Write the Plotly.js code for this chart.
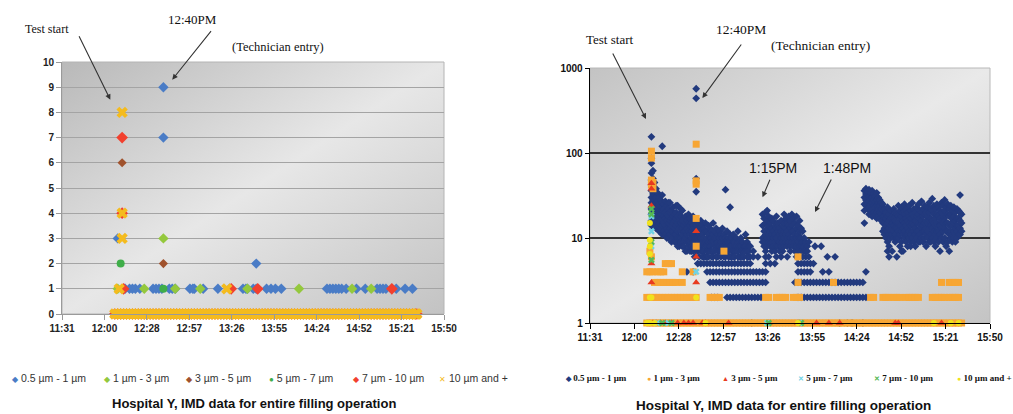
<!DOCTYPE html>
<html><head><meta charset="utf-8">
<script src="https://cdn.plot.ly/plotly-3.0.1.min.js"></script>
<style>html,body{margin:0;padding:0;background:#fff}#chart{width:1013px;height:414px}</style>
</head><body><div id="chart"></div>
<script>
// ---------------- shared axis data ----------------
const tickLabels = ['11:31','12:00','12:28','12:57','13:26','13:55','14:24','14:52','15:21','15:50'];
const tickTimes  = ['11:31:12','12:00:00','12:28:48','12:57:36','13:26:24','13:55:12','14:24:00','14:52:48','15:21:36','15:50:24'];
const axisStart = '11:31:12', axisEnd = '15:50:24';
const seriesNames = ['0.5 µm - 1 µm','1 µm - 3 µm','3 µm - 5 µm','5 µm - 7 µm','7 µm - 10 µm','10 µm and +'];

// ---------------- LEFT chart (linear) : times in minutes after midnight ----------------
const leftLogMinutes = [727,729,731,733,735,737,739,741,743,745,747,749,751,753,755,757,759,761,763,765,767,769,771,773,775,777,779,781,783,785,787,789,791,793,795,797,799,801,803,805,807,809,811,813,815,817,819,821,823,825,827,829,831,833,835,837,839,841,843,845,847,849,851,853,855,857,859,861,863,865,867,869,871,873,875,877,879,881,883,885,887,889,891,893,895,897,899,901,903,905,907,909,911,913,915,917,919,921,923,925,927,929,931,932];
const leftBluePairs = [[729,3],[760,9],[760,7],[823,2]];
const leftBlueOnes = [734,737,739,741,744,753,755,757,759,764,766,768,778,780,781,787,797,805,814,816,817,821,823,830,833,836,840,871,873,875,877,879,881,884,891,897,905,907,909,911,918,924,929];
const leftLimePairs = [[760,3]];
const leftLimeOnes = [729,747,768,785,817,852,888,901];
const leftBrownPairs = [[732,6],[760,2]];
const leftGreenPairs = [[731,2]];
const leftGreenOnes = [760];
const leftRedPairs = [[732,7],[732,4]];
const leftRedOnes = [733,806,824,915];
const leftYellowPairs = [[732,8],[732,4],[732,3]];
const leftYellowOnes = [730,803];

// ---------------- RIGHT chart (log) ----------------
const rightLogMinutes = [728,730,732,734,736,738,740,742,744,746,748,750,752,754,756,758,760,762,764,766,768,770,772,774,776,778,780,782,784,786,788,790,792,794,796,798,800,802,804,806,808,810,812,814,816,818,820,822,824,826,828,830,832,834,836,838,840,842,844,846,848,850,852,854,856,858,860,862,864,866,868,870,872,874,876,878,880,882,884,886,888,890,892,894,896,898,900,902,904,906,908,910,912,914,916,918,920,922,924,926,928,930,932];
// navy cloud rows: [minute, counts...]
const navyDecay = [
[731,155,87,76,58,48,42,36,30,26,22,19,16,14],[732,62,50,40,33,28,24,20,17],[733,45,35,29,25,21,18,15],
[734,38,30,26,22,19,16,13],[735,34,27,23,20,17,14],[736,30,25,21,18,15,12],[737,28,23,19,16,13],
[738,120,32,26,21,17,14,11],[739,25,22,18,15,12],[740,27,20,17,14,11],[741,24,19,16,13,10],
[742,26,22,18,15,12,10],[743,26,20,16,13,11],[744,21,17,14,12,9],[745,23,18,15,12,10],[746,19,16,13,11,9],
[747,24,20,17,14,11,9],[748,24,18,15,12,10,8],[749,19,16,13,10,8],[750,22,18,15,12,10,9],[751,21,16,13,11,8],
[752,17,14,12,9,8],[753,18,15,12,10,7],[754,16,13,11,9,7],[755,19,15,12,9,8],[756,17,14,11,9,7],
[757,15,12,10,8,7],[758,18,14,11,9,7],[759,16,13,10,8,6],[760,570,440,50,35,14,12,10,8,7],[761,15,12,10,8,7],
[762,13,11,9,8,6],[763,16,12,10,8,7],[764,14,11,9,7,6],[765,13,10,9,7,6],[766,15,12,9,8,6],[767,12,10,8,7,6],
[768,14,11,9,7,6],[769,13,10,8,7],[770,12,10,9,7,6],[771,15,11,9,7,6],[772,12,10,8,7],[773,13,10,8,6],
[774,11,9,8,7,6],[775,12,10,8,7],[776,11,9,7,6],[777,13,10,8,7],[778,11,9,8,6],[779,37,10,9,7,6],
[780,12,9,8,7],[781,10,9,7,6],[782,23,11,9,8,6],[783,10,8,7,6],[784,11,9,7,6],[785,9,8,7,6],[786,10,8,7],
[787,12,9,7,6],[788,9,8,6],[789,10,8,7,6],[790,9,7,6],[791,8,7,6],[792,11,8,7],[793,9,7,6],[794,8,7,6],
[795,8,6],[797,7,6],[800,6],[805,6]];
const navyBump = [
[803,19,14,10,9],[804,17,12,9,8],[805,20,15,11,9,7],[806,21,16,13,10,8],[807,18,14,11,9,6],[808,15,12,10,8],
[809,17,13,11,9,7],[810,16,12,10,8],[811,14,11,9,7],[812,18,13,10,8,6],[813,15,12,9,8],[814,13,11,9,7],
[815,16,12,10,8,6],[816,14,11,9,7],[817,19,15,12,10,8],[818,17,13,11,9],[819,15,12,10,8,6],[820,18,14,11,9],
[821,16,13,10,8,7],[822,19,14,12,9],[823,17,12,10,8],[824,15,11,9,7],[825,18,13,10,8,6],[826,14,11,9,7],
[827,16,12,10,8],[828,13,10,8,7],[829,12,9,8,6],[830,10,8,7],[831,9,7,6],[832,8,7],[833,9,6],
[837,8],[841,8],[845,6],[850,6]];
const navyLate = [
[869,36,30,25,21,15],[870,38,33,28,24],[871,35,30,26,22],[872,37,31,27,23,19],[873,34,29,25,21],
[874,36,30,26,22,18],[875,33,28,24,20],[876,31,27,23,19],[877,34,28,24,20,17],[878,30,26,22,18],
[879,28,24,20,17],[880,26,22,19,16],[881,25,21,18,15,12],[882,22,18,15,13,11],[883,20,17,14,12,10],
[884,23,18,15,12,9,7],[885,19,16,13,11,8,6],[886,21,17,14,12,10],[887,18,15,13,11,7],[888,22,17,14,12,10],
[889,20,16,13,11,9],[890,19,15,13,10,6],[891,24,18,15,12,10],[892,21,17,14,11,8],[893,23,18,14,12,9,7],
[894,20,16,13,11,7],[895,25,19,15,12,10],[896,22,17,14,11,9],[897,20,16,13,11,8],[898,24,18,15,12,10],
[899,21,17,14,11,9,8],[900,26,19,15,12,10],[901,22,18,14,12,9],[902,20,16,13,11,8],[903,23,18,15,12,10],
[904,25,19,15,12,9],[905,21,17,14,11,9],[906,27,20,16,13,10],[907,22,18,14,12,9],[908,24,19,15,12,10],
[909,20,16,13,11,8],[910,23,18,15,12,10],[911,26,20,16,13,9],[912,22,17,14,11,9],[913,29,21,16,13,10],
[914,24,19,15,12,9],[915,22,17,14,11,8],[916,25,19,15,12,10],[917,23,18,14,12,9],[918,21,17,14,11,7],
[919,26,20,16,13,10],[920,24,18,15,12,9],[921,28,21,16,13,10],[922,23,18,15,12,8],[923,25,19,15,12,9],
[924,22,18,14,11,7],[925,24,19,15,12,10],[926,21,17,14,11,9],[927,23,18,15,12,10],[928,20,16,13,11,9],
[929,22,17,14,12,10],[930,21,17,14,11],[931,32,20,16,13,11],[932,19,15,12]];
const navyRow5 = [761,763,765,767,769,771,773,775,777,779,781,783,785,787,789,791,793,795,805,808,811,826,828,830,832,834,836];
const navyRow4 = [754,758,767,769,771,773,775,777,779,781,783,785,787,789,791,793,795,797,799,801,803,805,826,828,830,832,834,842,846,870];
const navyRow3 = [769,771,773,775,777,779,781,783,785,787,789,791,793,795,797,799,801,803,805,824,826,828,830,832,834,836,838,840,842,844,846,848,850,852,854,856,858,860,862,864,866,868];
const navyRow2 = [770,772,774,780,782,784,786,788,790,792,794,796,798,800,802,826,828,830,832,834,836,838,840,842,844,846,848,850,852,854,856,858,860,862,864,866,868,870];
const navyRow1 = [796,853,858,861,868];

const orangeRow2 = [728,730,732,734,736,738,740,742,744,746,748,750,752,754,756,758,760,769,771,773,775,805,807,812,814,816,818,823,825,827,873,875,881,883,885,888,890,892,896,898,900,902,904,913,915,917,919,921,924,926,928,930];
const orangeRow3 = [733,735,737,739,741,743,745,747,751,826,849,919,924,926,928,930];
const orangeRow4 = [728,730,732,735,737,739,751,758];
const orangeRow5 = [740,742,744];
const orangePairs = [[731,105],[731,87],[731,48],[731,42],[732,38],[732,45],[730,7],[731,6],[760,127],[760,47],[760,43],[760,17],[760,8],[778,7],[826,6]];
const redPairs = [[731,44],[731,38],[731,24],[731,5],[731,3],[760,12],[760,6],[760,3]];
const redOnes = [732,734,737,740,744,748,752,755,758,764,766,781,807,826,838,846,853,889,891,919];
const cyanPairs = [[731,18],[731,12],[731,8],[760,4]];
const cyanOnes = [735,742,806,827];
const greenPairs = [[731,22],[731,19],[731,9],[731,5.5]];
const greenOnes = [738,744,807,828];
const yellowPairs = [[730,15],[730,9.5],[730,8],[730,6.5],[730,2],[731,2],[760,2]];
const yellowOnes = [728,730,733,766,826,914,925,930];

// ---------------- helpers ----------------
const DAY = '2000-01-01 ';
const pad = n => String(n).padStart(2,'0');
function toTime(m){ const h=Math.floor(m/60); const mi=Math.round(m-h*60); return DAY+pad(h)+':'+pad(mi)+':00'; }
function fromPairs(p){ return {x:p.map(d=>toTime(d[0])), y:p.map(d=>d[1])}; }
function fromRow(mins, v){ return {x:mins.map(toTime), y:mins.map(()=>v)}; }
function fromCloud(rows){ const x=[],y=[]; rows.forEach(r=>r.slice(1).forEach(v=>{x.push(toTime(r[0]));y.push(v);})); return {x,y}; }
function merge(...parts){ return {x:[].concat(...parts.map(p=>p.x)), y:[].concat(...parts.map(p=>p.y))}; }

const W=1013, H=414;
const px = v => v/W, py = v => 1 - v/H;

function trace(d, name, color, symbol, size, xa, ya){
  return {type:'scatter', mode:'markers', x:d.x, y:d.y, name:name, xaxis:xa, yaxis:ya, showlegend:false,
    cliponaxis:false, hoverinfo:'skip', marker:{color:color, symbol:symbol, size:size, line:{width:0}}};
}

const L = {
  blue:   merge(fromPairs(leftBluePairs), fromRow(leftBlueOnes,1)),
  lime:   merge(fromPairs(leftLimePairs), fromRow(leftLimeOnes,1)),
  brown:  fromPairs(leftBrownPairs),
  green:  merge(fromPairs(leftGreenPairs), fromRow(leftGreenOnes,1)),
  red:    merge(fromRow(leftLogMinutes,0), fromPairs(leftRedPairs), fromRow(leftRedOnes,1)),
  yellow: merge(fromRow(leftLogMinutes,0), fromPairs(leftYellowPairs), fromRow(leftYellowOnes,1))
};
const R = {
  navy: merge(fromCloud(navyDecay), fromCloud(navyBump), fromCloud(navyLate), fromRow(navyRow5,5), fromRow(navyRow4,4), fromRow(navyRow3,3), fromRow(navyRow2,2), fromRow(navyRow1,1)),
  orange: merge(fromRow(rightLogMinutes,1), fromRow(orangeRow2,2), fromRow(orangeRow3,3), fromRow(orangeRow4,4), fromRow(orangeRow5,5), fromPairs(orangePairs)),
  red: merge(fromPairs(redPairs), fromRow(redOnes,1)),
  cyan: merge(fromPairs(cyanPairs), fromRow(cyanOnes,1)),
  green: merge(fromPairs(greenPairs), fromRow(greenOnes,1)),
  yellow: merge(fromPairs(yellowPairs), fromRow(yellowOnes,1))
};

const leftStyle = [
  {c:'#4a7cc6', s:'diamond', z:8, g:'◆'}, {c:'#94c83d', s:'diamond', z:8, g:'◆'}, {c:'#a0522d', s:'diamond', z:7, g:'◆'},
  {c:'#3fae49', s:'circle', z:8, g:'●'}, {c:'#f2402e', s:'diamond', z:9, g:'◆'}, {c:'#f4bb1e', s:'x', z:10, g:'✕'}];
const rightStyle = [
  {c:'#223a7e', s:'diamond', z:6, g:'◆'}, {c:'#f7a634', s:'square', z:7, g:'●'}, {c:'#e83a20', s:'triangle-up', z:7, g:'▲'},
  {c:'#6fd3e6', s:'x', z:6, g:'✕'}, {c:'#55b855', s:'x', z:6, g:'✕'}, {c:'#f0e21c', s:'circle', z:6, g:'●'}];
const leftData = [L.blue, L.lime, L.brown, L.green, L.red, L.yellow];
const rightData = [R.navy, R.orange, R.red, R.cyan, R.green, R.yellow];

const data = [];
leftData.forEach((d,i)=>data.push(trace(d, seriesNames[i], leftStyle[i].c, leftStyle[i].s, leftStyle[i].z, 'x','y')));
rightData.forEach((d,i)=>data.push(trace(d, seriesNames[i], rightStyle[i].c, rightStyle[i].s, rightStyle[i].z, 'x2','y2')));

const domL = {x:[px(62), px(444)], y:[py(314), py(62)]};
const domR = {x:[px(590), px(990)], y:[py(323), py(68)]};

function grad(c0,c1,c2){
  const svg = `<svg xmlns="http://www.w3.org/2000/svg" width="400" height="260" preserveAspectRatio="none" viewBox="0 0 400 260"><defs><linearGradient id="g" x1="0" y1="0" x2="1" y2="1"><stop offset="0" stop-color="${c0}"/><stop offset="0.5" stop-color="${c1}"/><stop offset="1" stop-color="${c2}"/></linearGradient></defs><rect width="400" height="260" fill="url(#g)"/></svg>`;
  return 'data:image/svg+xml;charset=utf-8,' + encodeURIComponent(svg);
}
function bgImage(src, dom){
  return {source:src, xref:'paper', yref:'paper', x:dom.x[0], y:dom.y[1], sizex:dom.x[1]-dom.x[0], sizey:dom.y[1]-dom.y[0],
    xanchor:'left', yanchor:'top', sizing:'stretch', layer:'below'};
}

const tickX = tickTimes.map(t=>DAY+t);
const serif = 'Liberation Serif, Times New Roman, serif';
const sans = 'Liberation Sans, Arial, sans-serif';
const narrow = 'Liberation Sans Narrow, Arial Narrow, Liberation Sans, Arial, sans-serif';

function txt(text, x, y, font, anchor){ return {text:text, x:px(x), y:py(y), xref:'paper', yref:'paper', showarrow:false, xanchor:anchor||'center', yanchor:'middle', font:font}; }
function arrow(xa, ya, t, yv, ax, ay){ return {text:'', x:DAY+t, y:yv, xref:xa, yref:ya, showarrow:true, ax:ax, ay:ay, arrowhead:2, arrowsize:1, arrowwidth:1.1, arrowcolor:'#333'}; }

// legend entries (drawn as text so that symbol/label spacing matches)
const leftLegendX = [10, 102, 184, 267, 351, 437];
const rightLegendX = [563, 645, 720, 796, 872, 955];
const legendAnn = [];
seriesNames.forEach((n,i)=>{
  legendAnn.push(txt(`<span style="color:${leftStyle[i].c};font-size:8px">${leftStyle[i].g}</span> ${n}`, leftLegendX[i], 378,
    {family:sans, size:10.5, color:'#333'}, 'left'));
  legendAnn.push(txt(`<span style="color:${rightStyle[i].c};font-size:7px">${rightStyle[i].g}</span> ${n}`, rightLegendX[i], 378,
    {family:serif, size:9, color:'#111', weight:'bold'}, 'left'));
});

const layout = {
  width:W, height:H, margin:{l:0,r:0,t:0,b:0}, paper_bgcolor:'#fff', plot_bgcolor:'rgba(0,0,0,0)',
  showlegend:false,
  xaxis:{domain:domL.x, anchor:'y', type:'date', range:[DAY+axisStart, DAY+axisEnd], tickmode:'array', tickvals:tickX, ticktext:tickLabels,
    ticks:'outside', ticklen:5, tickcolor:'#999', showline:true, linecolor:'#9a9a9a', showgrid:false, zeroline:false,
    tickfont:{family:sans, size:10, color:'#222', weight:'bold'}, fixedrange:true, automargin:false},
  yaxis:{domain:domL.y, anchor:'x', range:[0,10], dtick:1, tick0:0, ticks:'outside', ticklen:5, tickcolor:'#999',
    showline:true, linecolor:'#9a9a9a', gridcolor:'#a4a4a4', gridwidth:1, zeroline:false,
    tickfont:{family:sans, size:10, color:'#222', weight:'bold'}, fixedrange:true, automargin:false},
  xaxis2:{domain:domR.x, anchor:'y2', type:'date', range:[DAY+axisStart, DAY+axisEnd], tickmode:'array', tickvals:tickX, ticktext:tickLabels,
    ticks:'outside', ticklen:5, tickcolor:'#000', showline:true, linecolor:'#000', linewidth:1.3, showgrid:false, zeroline:false,
    tickfont:{family:narrow, size:10, color:'#111', weight:'bold'}, fixedrange:true, automargin:false},
  yaxis2:{domain:domR.y, anchor:'x2', type:'log', range:[0,3], dtick:1, exponentformat:'none', ticks:'outside', ticklen:4, tickcolor:'#000',
    showline:true, linecolor:'#000', linewidth:1.3, gridcolor:'#333', gridwidth:1.2, zeroline:false,
    tickfont:{family:narrow, size:10, color:'#111', weight:'bold'}, fixedrange:true, automargin:false},
  images:[bgImage(grad('#b9b9b9','#e7e7e7','#c3c3c3'), domL), bgImage(grad('#c3c3c3','#e9e9e9','#c4c4c4'), domR)],
  shapes:[
    {type:'rect', xref:'paper', yref:'paper', x0:domL.x[0], x1:domL.x[1], y0:domL.y[0], y1:domL.y[1], line:{color:'#b4b4b4', width:1}, layer:'below'},
    {type:'rect', xref:'paper', yref:'paper', x0:domR.x[0], x1:domR.x[1], y0:domR.y[0], y1:domR.y[1], line:{color:'#b8b8b8', width:1}, layer:'below'}
  ],
  annotations:[
    txt('Test start', 47, 29, {family:serif, size:12, color:'#111'}),
    txt('12:40PM', 192, 20, {family:serif, size:13, color:'#111'}),
    txt('(Technician entry)', 278, 47, {family:serif, size:12.5, color:'#111'}),
    arrow('x','y','12:04', 8.5, -32, -65),
    arrow('x','y','12:46', 9.3, 40, -50),
    txt('Test start', 609, 40, {family:serif, size:13, color:'#111'}),
    txt('12:40PM', 741, 30, {family:serif, size:13.5, color:'#111'}),
    txt('(Technician entry)', 820, 45, {family:serif, size:13.5, color:'#111'}),
    txt('1:15PM', 773, 168, {family:sans, size:14, color:'#111'}),
    txt('1:48PM', 847, 168, {family:sans, size:14, color:'#111'}),
    arrow('x2','y2','12:07:30', 2.4, -34, -67),
    arrow('x2','y2','12:44', 2.647, 40, -55),
    arrow('x2','y2','13:23', 1.48, 8, -19),
    arrow('x2','y2','13:57', 1.305, 17, -34),
    txt('Hospital Y, IMD data for entire filling operation', 254, 403, {family:sans, size:13, color:'#111', weight:'bold'}),
    txt('Hospital Y, IMD data for entire filling operation', 783, 405, {family:sans, size:13.5, color:'#111', weight:'bold'})
  ].concat(legendAnn)
};

Plotly.newPlot('chart', data, layout, {staticPlot:true, displayModeBar:false});
</script></body></html>
